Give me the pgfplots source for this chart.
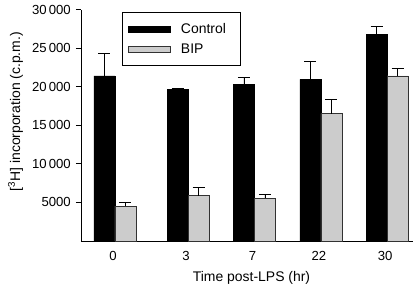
\documentclass[border=0pt]{standalone}
\usepackage{pgfplots}
\pgfplotsset{compat=1.18}
\usepackage{fontspec}
\setmainfont{Liberation Sans}
\definecolor{barG}{RGB}{204,204,204}
\definecolor{edgeG}{RGB}{50,50,50}
\begin{document}
\fontsize{14}{16}\selectfont
\begin{tikzpicture}
\begin{axis}[
  scale only axis,
  width=332bp, height=231.5bp,
  xmin=-0.512, xmax=4.488,
  ymin=0, ymax=30000,
  axis lines*=left,
  axis line style={black, line width=0.8pt},
  xtick={0,1.1,2.1,3.1,4.1},
  xticklabels={0,3,7,22,30},
  major x tick style={draw=none},
  ytick={5000,10000,15000,20000,25000,30000},
  scaled y ticks=false,
  yticklabel={\pgfmathprintnumber[assume math mode=true,1000 sep={\,},min exponent for 1000 sep=4,fixed]{\tick}},
  tick align=inside,
  major tick length=5bp,
  major y tick style={black, line width=0.8pt, xshift=-5bp},
  yticklabel style={font=\fontsize{13.2}{15}\selectfont, anchor=east, inner xsep=0pt, xshift=-10bp},
  xticklabel style={font=\fontsize{13.2}{15}\selectfont, anchor=base, inner sep=0pt, yshift=-14bp, xshift=-2bp},
  xlabel={Time post-LPS (hr)},
  ylabel={[\textsuperscript{3}H] incorporation (c.p.m.)},
  xlabel style={font=\fontsize{14}{16}\selectfont, at={(axis description cs:0.5136,0)}, anchor=base, inner sep=0pt, yshift=-40.7bp},
  ylabel style={font=\fontsize{14}{16}\selectfont, at={(axis description cs:-0.18373,0.5585)}, anchor=base, inner sep=0pt},
  ybar=0pt, bar width=21bp,
  error bars/y dir=plus,
  error bars/y explicit,
  error bars/error mark options={rotate=90, mark size=6bp, line width=0.8pt, black},
  error bars/error bar style={line width=0.8pt, black},
  legend style={at={(axis description cs:0.1226,0.9879)}, anchor=north west, draw=black, line width=0.7pt,
    font=\fontsize{14}{16}\selectfont, inner xsep=6.3bp, inner ysep=10.5bp,
    nodes={inner sep=0pt}, row sep=8.3bp, column sep=10bp, cells={anchor=west}},
  legend image code/.code={\draw[#1, line width=0.6pt] (0bp,-3.2bp) rectangle (42bp,3.2bp);},
]
\addplot[fill=black, draw=black, line width=0.6pt] coordinates {
 (0,21400) +- (0,2900)
 (1.1,19650) +- (0,150)
 (2.1,20300) +- (0,950)
 (3.1,20950) +- (0,2350)
 (4.1,26800) +- (0,1050)
};
\addplot[fill=barG, draw=edgeG, line width=0.6pt] coordinates {
 (0,4530) +- (0,470)
 (1.1,5870) +- (0,1030)
 (2.1,5530) +- (0,520)
 (3.1,16500) +- (0,1800)
 (4.1,21400) +- (0,970)
};
\legend{\makebox[52.7bp][l]{Control}, \makebox[52.7bp][l]{BIP}}
\end{axis}
\pgfresetboundingbox
\path[use as bounding box] ([shift={(-81bp,-45bp)}]current axis.south west) rectangle ([shift={(335bp,241bp)}]current axis.south west);
\end{tikzpicture}
\end{document}
